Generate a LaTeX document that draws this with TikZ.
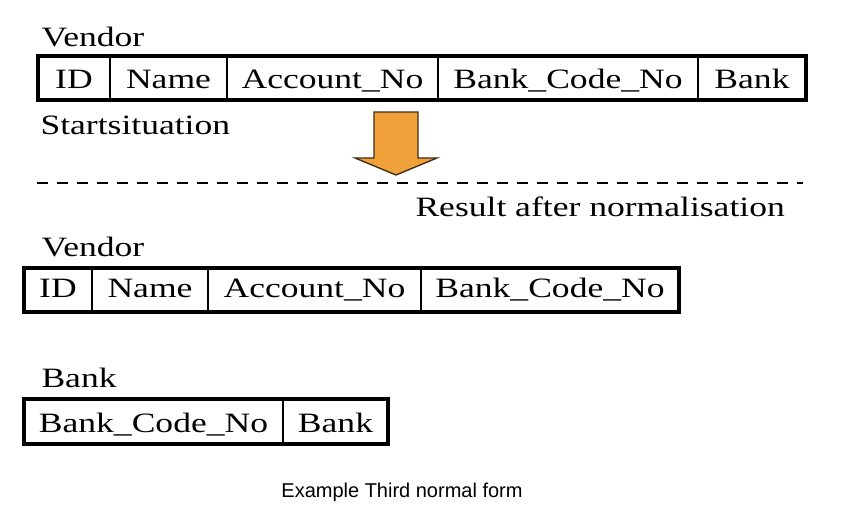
\documentclass[tikz,border=0pt]{standalone}
\usepackage{fontspec}
\setmainfont[FakeStretch=1.27]{Liberation Serif}
\newfontfamily\capfont{Liberation Sans}

\tikzset{every picture/.style={line width=0.75pt}}
\tikzset{
  tabframe/.style={line width=3},
  tabsep/.style={line width=1.5},
  celltext/.style={anchor=base,inner sep=0pt,font=\fontsize{21}{25}\selectfont},
  lbltext/.style={anchor=base west,inner sep=0pt,font=\fontsize{21}{25}\selectfont}
}

\begin{document}
\begin{tikzpicture}[x=0.75pt,y=0.75pt,yscale=-1,xscale=1]
\useasboundingbox (0,0) rectangle (844,522);

%Shape: Rectangle [id:vendor_start] 
\draw [tabframe] (38,56) rectangle (806,100) ;
\draw [tabsep] (110,56) -- (110,100) (227,56) -- (227,100) (438,56) -- (438,100) (698,56) -- (698,100) ;

%Shape: Block arrow [id:down_arrow] 
\draw [color={rgb, 255:red, 60; green, 45; blue, 20 }, fill={rgb, 255:red, 241; green, 161; blue, 57 }, line width=1] (374,112) -- (418,112) -- (418,158) -- (437,158) -- (396,175) -- (355,158) -- (374,158) -- cycle ;

%Straight Lines [id:split_line] 
\draw [line width=2, dash pattern=on 8pt off 7pt] (37,183) -- (803,183) ;

%Shape: Rectangle [id:vendor_result] 
\draw [tabframe] (24,268) rectangle (679,312) ;
\draw [tabsep] (92,268) -- (92,312) (208,268) -- (208,312) (421,268) -- (421,312) ;

%Shape: Rectangle [id:bank_result] 
\draw [tabframe] (24,399) rectangle (388,444) ;
\draw [tabsep] (283,399) -- (283,444) ;

% Text Node
\draw (41,46) node [lbltext] (vendorA) {Vendor};
% Text Node
\draw (74,88) node [celltext] (idA) {ID};
\draw (168.5,88) node [celltext] (nameA) {Name};
\draw (332.5,88) node [celltext] (accA) {Account\_No};
\draw (568,88) node [celltext] (codeA) {Bank\_Code\_No};
\draw (752,88) node [celltext] (bankA) {Bank};
% Text Node
\draw (40,134) node [lbltext] (start) {Startsituation};
% Text Node
\draw (415,216) node [lbltext] (result) {Result after normalisation};
% Text Node
\draw (41,256) node [lbltext] (vendorB) {Vendor};
\draw (58,297) node [celltext] (idB) {ID};
\draw (150,297) node [celltext] (nameB) {Name};
\draw (314.5,297) node [celltext] (accB) {Account\_No};
\draw (550,297) node [celltext] (codeB) {Bank\_Code\_No};
% Text Node
\draw (41,387) node [lbltext] (bankT) {Bank};
\draw (153.5,432) node [celltext] (codeC) {Bank\_Code\_No};
\draw (335.5,432) node [celltext] (bankC) {Bank};
% Text Node
\draw (402,497) node [anchor=base,inner sep=0pt,font=\capfont\fontsize{15}{18}\selectfont] (caption) {Example Third normal form};

\end{tikzpicture}
\end{document}
